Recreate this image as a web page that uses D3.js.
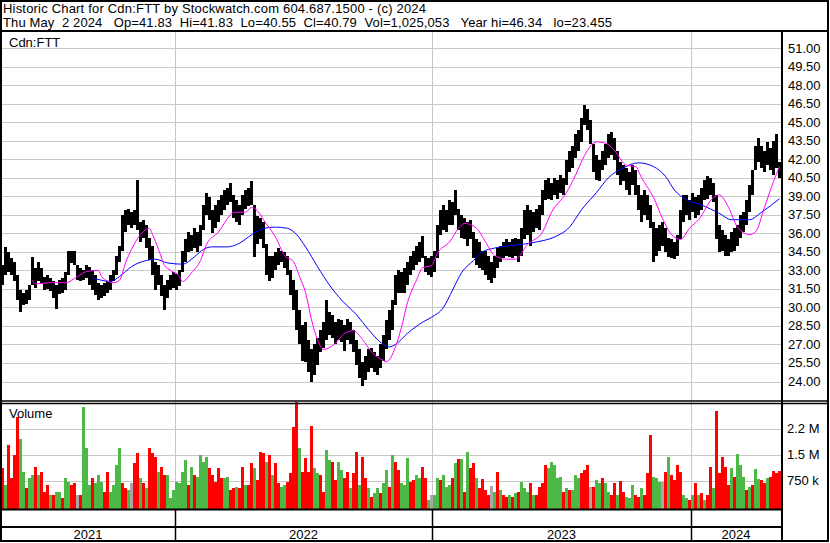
<!DOCTYPE html>
<html>
<head>
<meta charset="utf-8">
<script src="https://d3js.org/d3.v7.min.js"></script>
<style>
  body { margin: 0; background: #fff; }
  text { font-family: "Liberation Sans", Arial, sans-serif; font-size: 13px; fill: #000; }
  .hdr { white-space: pre; }
</style>
</head>
<body>
<svg id="chart"></svg>
<script>

// one sample = about 3 trading days, May 2021 -> May 2 2024
var hi = [
  33.4,34.9,34.5,34.0,33.7,32.6,31.4,31.2,31.4,31.8,
  34.1,33.2,33.7,33.2,32.5,32.6,32.4,32.1,31.8,32.2,
  32.4,32.9,34.6,34.6,34.6,33.4,33.2,33.0,33.4,33.3,
  33.0,32.6,32.0,31.8,32.0,32.1,32.6,33.0,34.2,35.0,
  37.5,37.9,38.0,37.7,37.9,40.3,36.9,37.1,36.7,35.6,
  35.0,33.7,33.4,32.6,31.8,32.2,32.6,32.9,32.7,33.0,
  34.6,35.5,36.1,35.9,36.4,36.1,36.7,38.3,39.3,38.9,
  37.9,38.3,38.7,39.1,39.5,39.7,40.1,39.1,38.7,38.3,
  39.1,39.5,39.7,40.2,38.3,37.4,37.2,36.9,35.1,34.2,
  34.2,34.5,34.8,34.6,34.5,34.2,33.0,32.2,31.4,29.8,
  28.6,28.8,27.4,26.6,27.0,27.5,28.2,28.8,30.6,29.6,
  29.4,28.8,29.1,29.0,28.6,29.1,28.8,28.2,27.4,26.6,
  25.6,26.1,26.6,26.7,26.4,26.1,27.0,27.8,29.0,29.8,
  30.6,32.6,33.0,32.9,33.2,33.7,34.2,34.6,35.0,35.3,
  35.8,34.2,34.0,34.2,34.6,36.7,37.9,38.3,37.9,38.7,
  38.5,39.5,38.0,37.5,37.2,36.9,37.1,36.1,35.5,35.3,
  34.6,34.6,34.2,33.7,34.2,34.8,35.0,35.3,35.5,35.3,
  35.5,35.6,35.5,36.4,37.9,38.3,37.9,37.7,38.0,38.3,
  39.5,40.3,40.5,40.1,40.5,40.3,40.7,40.5,41.9,42.7,
  43.1,44.0,44.4,45.3,46.4,46.1,45.2,43.2,42.3,41.9,
  42.7,43.2,44.0,44.2,43.7,42.7,41.8,41.5,41.3,41.0,
  41.5,41.1,39.9,39.1,39.5,39.1,38.3,36.9,36.4,36.7,
  36.9,36.4,35.6,35.5,35.3,35.9,37.9,39.1,39.1,38.7,
  39.3,38.9,39.1,39.7,40.3,40.6,40.5,40.1,39.1,36.7,
  36.3,35.9,35.5,36.1,36.4,36.7,37.5,37.7,38.7,39.9,
  41.1,43.1,43.7,43.1,42.7,43.4,42.9,43.5,44.0,41.8
];
var lo = [
  31.8,32.6,32.9,32.6,32.1,30.6,29.6,30.2,30.3,30.6,
  31.8,31.6,32.1,31.9,31.4,31.5,31.3,30.8,29.9,31.1,
  31.2,31.4,32.6,33.6,33.4,32.2,32.1,32.2,32.4,31.8,
  31.4,31.0,30.6,30.8,30.9,31.2,31.4,32.1,32.6,33.7,
  34.6,36.1,36.7,36.4,36.7,36.3,35.3,35.6,34.8,33.8,
  32.6,31.4,31.8,30.9,29.8,30.8,31.4,31.6,31.4,31.7,
  32.9,33.7,34.5,34.6,34.8,34.5,35.0,36.3,37.5,37.1,
  36.0,36.4,36.9,37.5,37.9,38.3,38.5,37.2,36.9,36.7,
  37.5,38.0,38.2,38.3,34.1,35.1,35.5,34.8,32.6,32.1,
  32.4,33.0,33.4,33.7,33.2,32.6,31.0,29.8,28.2,27.0,
  25.7,25.6,24.8,24.0,24.5,25.3,26.4,26.7,27.4,27.8,
  27.5,27.0,27.4,27.2,26.5,27.4,27.0,26.4,25.3,24.3,
  23.6,24.1,24.8,25.1,24.8,24.5,25.1,25.7,26.6,27.4,
  28.2,30.2,31.2,31.2,31.2,31.8,32.6,33.0,33.4,33.7,
  34.0,32.9,32.6,32.5,32.9,34.0,35.9,36.3,36.1,36.7,
  36.7,37.5,36.3,35.6,35.5,35.0,35.5,34.0,33.4,33.2,
  33.0,32.6,32.2,32.0,32.4,33.2,33.7,34.0,34.2,34.1,
  34.0,34.2,33.7,34.2,35.5,35.9,35.0,36.1,36.4,36.3,
  37.5,38.7,38.8,38.7,39.1,38.8,39.3,39.1,39.9,41.0,
  41.3,42.1,42.7,43.4,44.8,44.4,43.2,41.0,40.3,40.2,
  41.1,41.5,42.1,42.3,41.9,40.7,39.9,40.2,39.5,39.1,
  39.9,39.1,37.9,36.9,37.5,37.1,36.4,33.7,34.2,34.6,
  35.0,34.5,34.1,34.0,33.9,34.2,35.5,36.9,37.5,37.1,
  37.7,37.2,37.5,37.9,38.7,38.8,39.1,38.5,35.5,34.5,
  34.6,34.2,34.2,34.5,34.6,35.0,35.6,36.1,36.7,37.7,
  39.1,41.1,41.8,41.3,41.0,41.5,41.1,40.7,41.3,40.5
];

// volume in thousands, r = down, g = up, n = unchanged
var vol = [
  1101,620,1774,813,1486,2591,1950,1005,524,813,
  909,1149,909,1005,428,620,332,332,428,428,
  236,813,716,620,668,332,332,2880,1700,620,
  813,668,909,716,428,1005,428,620,1197,1678,
  668,524,476,668,1245,1534,813,668,524,1678,
  1534,1438,1005,1149,909,909,250,476,716,668,
  1005,1342,620,1149,909,861,1486,1293,1438,1101,
  909,716,1101,813,813,861,476,524,572,524,
  1149,620,620,1245,1101,765,1582,1534,1293,1486,
  909,1245,668,572,620,716,957,2303,3024,1680,
  1000,1389,1005,2322,1100,957,909,428,1630,1341,
  1293,765,1293,1053,813,1005,524,957,1582,620,
  1438,813,524,284,380,524,380,668,1053,572,
  1486,1293,1053,668,620,1389,716,765,909,813,
  1149,813,188,332,332,813,765,909,572,620,
  813,1245,1360,1360,428,1582,1101,1245,813,524,
  780,476,332,590,428,1005,476,332,284,332,
  284,380,428,716,524,428,668,332,332,572,
  668,1197,1101,1293,1197,813,861,428,524,476,
  476,909,813,957,1053,1197,572,572,765,668,
  832,668,428,332,668,332,736,428,284,236,
  620,332,284,524,332,957,2063,861,813,716,
  716,1005,1438,909,765,1197,1005,332,236,188,
  332,668,332,380,188,332,1149,524,2765,957,
  1438,1149,620,1101,861,1505,1197,861,476,572,
  620,1082,793,765,668,813,861,1024,957,1025
];
var volDir = "rgrrrrggrg grgrrrgrgg rggrrnrggg rgggrrgggg rrgnrrgrgr " +
             "rrgrrggggg ggrgrggggr rrrrggrrgr rgrrgrrrgr grrggrrrrg " +
             "rrrrggrrgg rrggrrgrrg rrgrggrggr grrgggrrgg rrgnggrggg " +
             "rgrgrgrrgr rrrngrgrrg rgrgggrgrr rrgggggrgr gggrrrnrgg " +
             "rggrrgrrgg grrgrrrggg nrgrrrrggr grgrgrrgrr rrrgrgggrg " +
             "rggrrgrrrr";

// moving averages: [sample, price]
var maFast = [[10,32.2],[11,31.9],[16,32.0],[21,32.0],[25,32.5],[28,32.9],[32,33.0],[33,32.5],
  [37,32.0],[39,32.2],[41,33.6],[43,34.7],[46,35.9],[49,36.4],[50,35.9],[52,34.7],[54,33.4],
  [56,33.0],[59,32.5],[60,32.1],[63,32.8],[66,33.8],[68,35.1],[72,36.1],[76,37.5],[77,37.7],
  [81,37.7],[83,38.1],[86,37.5],[87,37.1],[91,35.7],[94,34.2],[97,33.7],[99,32.5],[101,31.2],
  [103,29.0],[105,27.4],[107,26.6],[111,27.1],[114,27.9],[117,28.1],[120,27.4],[123,26.4],
  [127,25.7],[128,25.6],[131,26.8],[133,28.4],[135,30.4],[138,32.2],[140,33.2],[143,33.4],
  [145,34.4],[149,35.3],[152,36.4],[154,36.8],[158,36.4],[161,35.3],[164,34.2],[168,33.9],
  [171,33.9],[175,35.1],[180,36.1],[183,37.7],[188,39.3],[191,40.7],[194,42.3],[198,43.4],
  [201,43.3],[204,42.7],[208,41.5],[211,41.4],[213,40.5],[217,38.9],[220,37.2],[223,35.9],
  [226,35.5],[229,36.4],[232,37.1],[237,38.9],[239,39.1],[242,38.1],[245,36.5],[249,35.9],
  [251,36.1],[254,38.1],[257,40.2],[259,41.4]];
var maSlow = [[30,32.4],[36,32.1],[39,32.5],[43,33.3],[48,33.8],[51,33.9],[55,33.6],[60,33.5],
  [64,34.1],[67,34.7],[70,34.9],[75,34.9],[79,35.2],[82,35.7],[85,36.2],[87,36.4],[91,36.5],
  [95,36.4],[98,35.9],[101,34.9],[105,33.3],[109,31.8],[113,30.6],[118,29.4],[122,28.2],
  [127,27.0],[129,26.8],[131,27.0],[135,27.9],[140,28.8],[143,29.2],[147,30.0],[150,31.4],
  [153,32.8],[157,33.8],[160,34.5],[164,34.8],[169,35.0],[173,35.1],[178,35.3],[184,35.7],
  [189,36.5],[193,37.9],[198,39.3],[202,40.5],[207,41.3],[212,41.7],[217,41.4],[221,40.6],
  [224,39.5],[228,38.7],[233,38.3],[239,37.6],[243,37.1],[249,37.1],[253,37.7],[259,38.8]];

var priceTicks = d3.range(24, 51.01, 1.5);
var volTicks = [750, 1500, 2250];
var volTickLabels = ["750 k", "1.5 M", "2.2 M"];
var years = ["2021", "2022", "2023", "2024"];
var yearStarts = [0, 58, 143.7, 230, 260];   // sample index where each year begins

var title1 = "Historic Chart for Cdn:FTT by Stockwatch.com 604.687.1500 - (c) 2024";
var title2 = "Thu May  2 2024   Op=41.83  Hi=41.83  Lo=40.55  Cl=40.79  Vol=1,025,053   Year hi=46.34   lo=23.455";

var width = 830, height = 543;
var plotL = 1, plotR = 781;

var svg = d3.select('#chart').attr('width', width).attr('height', height);

var x = d3.scaleLinear().domain([0, hi.length]).range([plotL, plotR]);
var y = d3.scaleLinear().domain([24, 51]).range([381.5, 48]);
var yv = d3.scaleLinear().domain([0, 3000]).range([506.5, 402.5]);

var dirs = volDir.replace(/ /g, "");
var volColor = { r: "#ff0000", g: "#4cb847", n: "#a8a8a8" };

// grid
var grid = svg.append('g').attr('stroke', '#c8c8c8').attr('stroke-width', 1);
grid.selectAll('.hg').data(priceTicks).enter().append('line')
  .attr('x1', plotL).attr('x2', 782)
  .attr('y1', function (d) { return Math.round(y(d)) + 0.5; })
  .attr('y2', function (d) { return Math.round(y(d)) + 0.5; });
grid.selectAll('.vg').data(volTicks).enter().append('line')
  .attr('x1', plotL).attr('x2', 782)
  .attr('y1', function (d) { return Math.round(yv(d)) + 0.5; })
  .attr('y2', function (d) { return Math.round(yv(d)) + 0.5; });
grid.selectAll('.yg').data(yearStarts.slice(1, 4)).enter().append('line')
  .attr('x1', function (d) { return Math.round(x(d)) + 0.5; })
  .attr('x2', function (d) { return Math.round(x(d)) + 0.5; })
  .attr('y1', 32).attr('y2', 509);

// price bars (hi-lo of each sample)
svg.append('g').selectAll('rect').data(hi).enter().append('rect')
  .attr('shape-rendering', 'crispEdges')
  .attr('x', function (d, i) { return x(i); })
  .attr('width', function (d, i) { return x(i + 1) - x(i); })
  .attr('y', function (d) { return y(d); })
  .attr('height', function (d, i) { return y(lo[i]) - y(d); })
  .attr('fill', '#000');

// moving averages
var line = d3.line()
  .x(function (d) { return x(d[0] + 0.5); })
  .y(function (d) { return y(d[1]); })
  .curve(d3.curveMonotoneX);
svg.append('path').datum(maSlow).attr('d', line)
  .attr('fill', 'none').attr('stroke', '#0000ff').attr('stroke-width', 1);
svg.append('path').datum(maFast).attr('d', line)
  .attr('fill', 'none').attr('stroke', '#ff00ff').attr('stroke-width', 1);

// volume bars
svg.append('g').selectAll('rect').data(vol).enter().append('rect')
  .attr('shape-rendering', 'crispEdges')
  .attr('x', function (d, i) { return x(i); })
  .attr('width', function (d, i) { return x(i + 1) - x(i); })
  .attr('y', function (d) { return yv(d); })
  .attr('height', function (d) { return 508.5 - yv(d); })
  .attr('fill', function (d, i) { return volColor[dirs[i]]; });

// frame
var frame = svg.append('g').attr('stroke', '#000').attr('fill', 'none');
frame.append('rect').attr('x', 1).attr('y', 1).attr('width', 827).attr('height', 540).attr('stroke-width', 2);
frame.append('line').attr('x1', 0).attr('x2', 829).attr('y1', 31).attr('y2', 31).attr('stroke-width', 2);
frame.append('line').attr('x1', 782).attr('x2', 782).attr('y1', 31).attr('y2', 542).attr('stroke-width', 2);
frame.append('line').attr('x1', 0).attr('x2', 829).attr('y1', 401).attr('y2', 401).attr('stroke-width', 1.5);
frame.append('line').attr('x1', 0).attr('x2', 829).attr('y1', 403.5).attr('y2', 403.5).attr('stroke-width', 1.5);
frame.append('line').attr('x1', 0).attr('x2', 782).attr('y1', 509.5).attr('y2', 509.5).attr('stroke-width', 2);
frame.append('line').attr('x1', 0).attr('x2', 782).attr('y1', 527).attr('y2', 527).attr('stroke-width', 2);
frame.selectAll('.ys').data(yearStarts.slice(1, 4)).enter().append('line')
  .attr('x1', function (d) { return Math.round(x(d)) + 0.5; })
  .attr('x2', function (d) { return Math.round(x(d)) + 0.5; })
  .attr('y1', 509).attr('y2', 541).attr('stroke-width', 1.5);

// texts
svg.append('text').attr('class', 'hdr').attr('x', 3).attr('y', 13)
  .attr('textLength', 423).attr('lengthAdjust', 'spacing').text(title1);
svg.append('text').attr('class', 'hdr').attr('x', 3).attr('y', 27)
  .attr('textLength', 609).attr('lengthAdjust', 'spacing').text(title2);
svg.append('text').attr('x', 9).attr('y', 47).text('Cdn:FTT');
svg.append('text').attr('x', 9).attr('y', 418).text('Volume');

svg.selectAll('.pl').data(priceTicks).enter().append('text')
  .attr('x', 788).attr('y', function (d) { return y(d) + 4.5; })
  .text(function (d) { return d.toFixed(2); });
svg.selectAll('.vl').data(volTicks).enter().append('text')
  .attr('x', 787).attr('y', function (d) { return yv(d) + 4.5; })
  .text(function (d, i) { return volTickLabels[i]; });
svg.selectAll('.yl').data(years).enter().append('text')
  .attr('text-anchor', 'middle')
  .attr('x', function (d, i) { return (x(yearStarts[i]) + x(yearStarts[i + 1])) / 2; })
  .attr('y', 539)
  .text(function (d) { return d; });

</script>
</body>
</html>
